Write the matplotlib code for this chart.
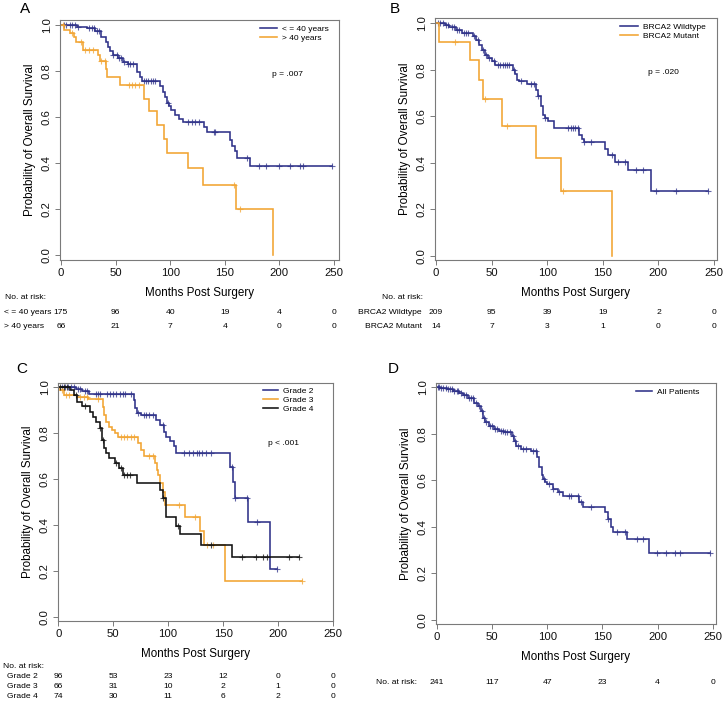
import numpy as np
import matplotlib
matplotlib.use('Agg')
import matplotlib.pyplot as plt
from matplotlib import transforms

plt.rcParams['font.family'] = ['Liberation Sans', 'DejaVu Sans']

W, H = 723, 705
BLUE = '#2E3188'
ORANGE = '#F2A431'
BLACK = '#111111'
FRAME = '#7a7a7a'

risk_times = [0, 50, 100, 150, 200, 250]
x_ticks = [0, 50, 100, 150, 200, 250]
y_ticks = [0.0, 0.2, 0.4, 0.6, 0.8, 1.0]

# ---------------- Panel A : age ----------------
a_le40_t = [0, 15, 24, 31, 37, 41, 43, 45, 48, 52, 57, 61, 70, 72, 74, 91, 93, 95, 97, 99,
            101, 104, 108, 112, 131, 134, 155, 157, 159, 161, 173]
a_le40_s = [1.0, 0.993, 0.986, 0.972, 0.95, 0.928, 0.906, 0.885, 0.87, 0.855, 0.84, 0.832,
            0.797, 0.775, 0.757, 0.735, 0.71, 0.687, 0.66, 0.648, 0.63, 0.61, 0.592, 0.578,
            0.555, 0.535, 0.50, 0.475, 0.45, 0.42, 0.386]
a_le40_c = [3, 5, 8, 10, 13, 16, 26, 28, 30, 33, 35, 48, 51, 53, 55, 58, 61, 63, 66, 76, 78,
            80, 82, 84, 86, 98, 116, 120, 123, 126, 140, 141, 170, 181, 188, 200, 210, 219,
            222, 248]
a_gt40_t = [0, 3, 8, 12, 14, 20, 34, 36, 41, 42, 54, 76, 81, 88, 94, 97, 116, 130, 160, 194]
a_gt40_s = [1.0, 0.978, 0.964, 0.95, 0.928, 0.89, 0.87, 0.843, 0.81, 0.776, 0.74, 0.68,
            0.625, 0.567, 0.505, 0.444, 0.38, 0.305, 0.202, 0.0]
a_gt40_c = [2, 10, 18, 22, 26, 29, 37, 40, 62, 65, 68, 71, 158, 164]
a_labels = ['< = 40 years', '> 40 years']
a_risk = [[175, 96, 40, 19, 4, 0], [66, 21, 7, 4, 0, 0]]

# ---------------- Panel B : BRCA2 ----------------
b_wt_t = [0, 8, 12, 18, 23, 33, 36, 39, 41, 44, 47, 50, 53, 69, 71, 73, 75, 82, 90, 92, 94,
          96, 98, 101, 106, 129, 131, 133, 152, 155, 161, 173, 193]
b_wt_s = [1.0, 0.993, 0.985, 0.972, 0.96, 0.945, 0.93, 0.908, 0.887, 0.865, 0.85, 0.836,
          0.822, 0.80, 0.78, 0.757, 0.75, 0.737, 0.715, 0.686, 0.643, 0.607, 0.593, 0.578,
          0.548, 0.52, 0.50, 0.488, 0.46, 0.433, 0.405, 0.37, 0.278]
b_wt_c = [2, 4, 6, 9, 11, 14, 16, 19, 21, 25, 27, 29, 34, 38, 42, 45, 48, 52, 56, 58, 60, 62,
          64, 66, 70, 76, 85, 88, 92, 98, 119, 121, 123, 125, 128, 133, 139, 158, 164, 170,
          180, 186, 198, 216, 245]
b_mut_t = [0, 3, 31, 38.5, 42.5, 59, 90, 112, 158]
b_mut_s = [1.0, 0.921, 0.84, 0.756, 0.673, 0.56, 0.42, 0.28, 0.0]
b_mut_c = [17, 44, 64, 114]
b_labels = ['BRCA2 Wildtype', 'BRCA2 Mutant']
b_risk = [[209, 95, 39, 19, 2, 0], [14, 7, 3, 1, 0, 0]]

# ---------------- Panel C : grade ----------------
c_g2_t = [0, 16, 22, 28, 69, 70, 72, 75, 89, 93, 96, 98, 102, 105, 107, 156, 159, 161, 173, 193]
c_g2_s = [1.0, 0.99, 0.98, 0.968, 0.94, 0.906, 0.885, 0.875, 0.856, 0.834, 0.805, 0.783,
          0.762, 0.74, 0.713, 0.652, 0.587, 0.514, 0.41, 0.206]
c_g2_c = [3, 6, 9, 12, 14, 18, 20, 24, 26, 34, 36, 38, 44, 47, 50, 53, 56, 59, 61, 66, 73,
          78, 80, 83, 86, 95, 114, 119, 123, 126, 128, 131, 134, 139, 158, 161, 172, 181, 199]
c_g3_t = [0, 2, 5, 17, 27, 41, 42, 43, 46, 49, 52, 54, 73, 75, 78, 88, 90, 91, 93, 95, 97,
          115, 129, 133, 152]
c_g3_s = [1.0, 0.985, 0.965, 0.955, 0.945, 0.913, 0.877, 0.848, 0.825, 0.81, 0.797, 0.783,
          0.754, 0.725, 0.70, 0.667, 0.638, 0.616, 0.58, 0.54, 0.486, 0.435, 0.372, 0.31, 0.155]
c_g3_c = [3, 7, 10, 20, 23, 26, 36, 57, 60, 63, 66, 69, 83, 86, 110, 124, 135, 141, 222]
c_g4_t = [0, 11, 14, 17, 22, 29, 32, 34, 38, 40, 42, 43, 46, 52, 55, 59, 72, 93, 95, 98, 107,
          111, 130, 158]
c_g4_s = [1.0, 0.986, 0.964, 0.935, 0.918, 0.89, 0.87, 0.848, 0.82, 0.768, 0.732, 0.71, 0.69,
          0.667, 0.645, 0.617, 0.583, 0.55, 0.518, 0.433, 0.394, 0.358, 0.31, 0.258]
c_g4_c = [2, 5, 8, 16, 24, 38, 41, 53, 57, 60, 63, 65, 95, 109, 139, 167, 180, 186, 190, 210, 219]
c_labels = ['Grade 2', 'Grade 3', 'Grade 4']
c_risk = [[96, 53, 23, 12, 0, 0], [66, 31, 10, 2, 1, 0], [74, 30, 11, 6, 2, 0]]

# ---------------- Panel D : all patients ----------------
d_all_t = [0, 3, 9, 15, 20, 24, 28, 34, 37, 40, 42, 44, 47, 52, 56, 61, 68, 70, 72, 76, 85,
           91, 93, 95, 96, 98, 100, 105, 110, 114, 129, 132, 152, 155, 158, 160, 172, 192]
d_all_s = [1.0, 0.996, 0.991, 0.982, 0.975, 0.965, 0.955, 0.934, 0.92, 0.899, 0.87, 0.849,
           0.835, 0.82, 0.813, 0.806, 0.792, 0.77, 0.748, 0.735, 0.728, 0.70, 0.656, 0.623,
           0.605, 0.594, 0.585, 0.565, 0.551, 0.535, 0.508, 0.486, 0.465, 0.436, 0.40, 0.378,
           0.347, 0.289]
d_all_c = [1, 2, 4, 6, 8, 10, 12, 14, 16, 18, 19, 22, 25, 27, 29, 31, 33, 36, 38, 41, 43, 45,
           48, 50, 53, 55, 58, 60, 62, 64, 66, 69, 71, 74, 78, 81, 87, 90, 97, 102, 105, 111,
           120, 122, 128, 131, 140, 155, 163, 170, 181, 187, 199, 208, 216, 220, 247]
d_labels = ['All Patients']
d_risk = [[241, 117, 47, 23, 4, 0]]


def fx(px):
    return px / W


def fy(py):
    return 1 - py / H


fig = plt.figure(figsize=(W / 100, H / 100), dpi=100)


def make_ax(left, top, right, bottom, xlim, ylim):
    ax = fig.add_axes([fx(left), fy(bottom), (right - left) / W, (bottom - top) / H])
    ax.set_xlim(*xlim)
    ax.set_ylim(*ylim)
    ax.set_xticks(x_ticks)
    ax.set_yticks(y_ticks)
    ax.set_yticklabels([f'{v:.1f}' for v in y_ticks], rotation=90, va='center')
    for sp in ax.spines.values():
        sp.set_color(FRAME)
        sp.set_linewidth(0.8)
    ax.tick_params(length=3.6, width=0.7, color=FRAME, labelsize=8.2, pad=2.2,
                   labelcolor='#111111')
    ax.set_xlabel('Months Post Surgery', fontsize=8.4)
    ax.set_ylabel('Probability of Overall Survival', fontsize=8.4)
    ax.xaxis.set_label_coords(0.5, -0.112)
    ax.yaxis.set_label_coords(-0.086, 0.5)
    return ax


def km(ax, times, surv, cens, color, label):
    end = max(max(times), max(cens)) if cens else max(times)
    t = list(times) + [end]
    s = list(surv) + [surv[-1]]
    ax.step(t, s, where='post', color=color, lw=1.15, label=label, solid_joinstyle='miter')
    idx = np.searchsorted(np.array(times), np.array(cens), side='right') - 1
    ax.plot(cens, np.array(surv)[idx], ls='none', marker='+', ms=5, mew=0.8,
            color=color, alpha=0.75)


def legend(ax, x0, y0, hl):
    ax.legend(loc='upper left', bbox_to_anchor=(fx(x0), fy(y0)),
              bbox_transform=fig.transFigure, frameon=False, fontsize=6,
              handlelength=hl, handletextpad=0.6, labelspacing=0.15,
              borderpad=0, borderaxespad=0)


def risk_table(ax, header_xy, header_ha, labels, rows, label_x, label_ha, row_ys):
    tr = transforms.blended_transform_factory(ax.transData, fig.transFigure)
    fs = 6.1
    if header_xy is not None:
        fig.text(fx(header_xy[0]), fy(header_xy[1]), 'No. at risk:', fontsize=fs,
                 ha=header_ha, va='center')
    for lab, row, y in zip(labels, rows, row_ys):
        if lab is not None:
            fig.text(fx(label_x), fy(y), lab, fontsize=fs, ha=label_ha, va='center')
        for t, n in zip(risk_times, row):
            ax.text(t, fy(y), str(n), transform=tr, fontsize=fs, ha='center', va='center')


# Panel A
axA = make_ax(60, 20, 339, 260, (-0.9, 254.6), (-0.022, 1.022))
km(axA, a_le40_t, a_le40_s, a_le40_c, BLUE, a_labels[0])
km(axA, a_gt40_t, a_gt40_s, a_gt40_c, ORANGE, a_labels[1])
legend(axA, 260, 25, 2.0)
axA.text(0.814, 0.771, 'p = .007', transform=axA.transAxes, fontsize=6, ha='center', va='center')
risk_table(axA, (5, 298), 'left', a_labels, a_risk, 4, 'left', [313, 327])
fig.text(fx(20), fy(2), 'A', fontsize=11, ha='left', va='top')

# Panel B
axB = make_ax(435, 18, 717, 260, (-0.9, 252.7), (-0.0185, 1.0228))
km(axB, b_wt_t, b_wt_s, b_wt_c, BLUE, b_labels[0])
km(axB, b_mut_t, b_mut_s, b_mut_c, ORANGE, b_labels[1])
legend(axB, 620, 23, 2.2)
axB.text(0.809, 0.773, 'p = .020', transform=axB.transAxes, fontsize=6, ha='center', va='center')
risk_table(axB, (423, 298), 'right', b_labels, b_risk, 422, 'right', [313, 327])
fig.text(fx(390), fy(2), 'B', fontsize=11, ha='left', va='top')

# Panel C
axC = make_ax(57.7, 383, 333, 621, (-0.5, 249.3), (-0.0187, 1.016))
km(axC, c_g2_t, c_g2_s, c_g2_c, BLUE, c_labels[0])
km(axC, c_g3_t, c_g3_s, c_g3_c, ORANGE, c_labels[1])
km(axC, c_g4_t, c_g4_s, c_g4_c, BLACK, c_labels[2])
legend(axC, 263, 387, 1.8)
axC.text(0.822, 0.744, 'p < .001', transform=axC.transAxes, fontsize=6, ha='center', va='center')
risk_table(axC, (3, 666), 'left', c_labels, c_risk, 7, 'left', [677, 687, 697])
fig.text(fx(16), fy(362), 'C', fontsize=11, ha='left', va='top')

# Panel D
axD = make_ax(436, 383, 716, 624, (-0.6, 252.8), (-0.017, 1.0185))
km(axD, d_all_t, d_all_s, d_all_c, BLUE, d_labels[0])
legend(axD, 636, 388, 1.9)
risk_table(axD, (417, 682), 'right', [None], d_risk, 0, 'left', [682])
fig.text(fx(388), fy(362), 'D', fontsize=11, ha='left', va='top')

fig.savefig('out.png', dpi=100)
